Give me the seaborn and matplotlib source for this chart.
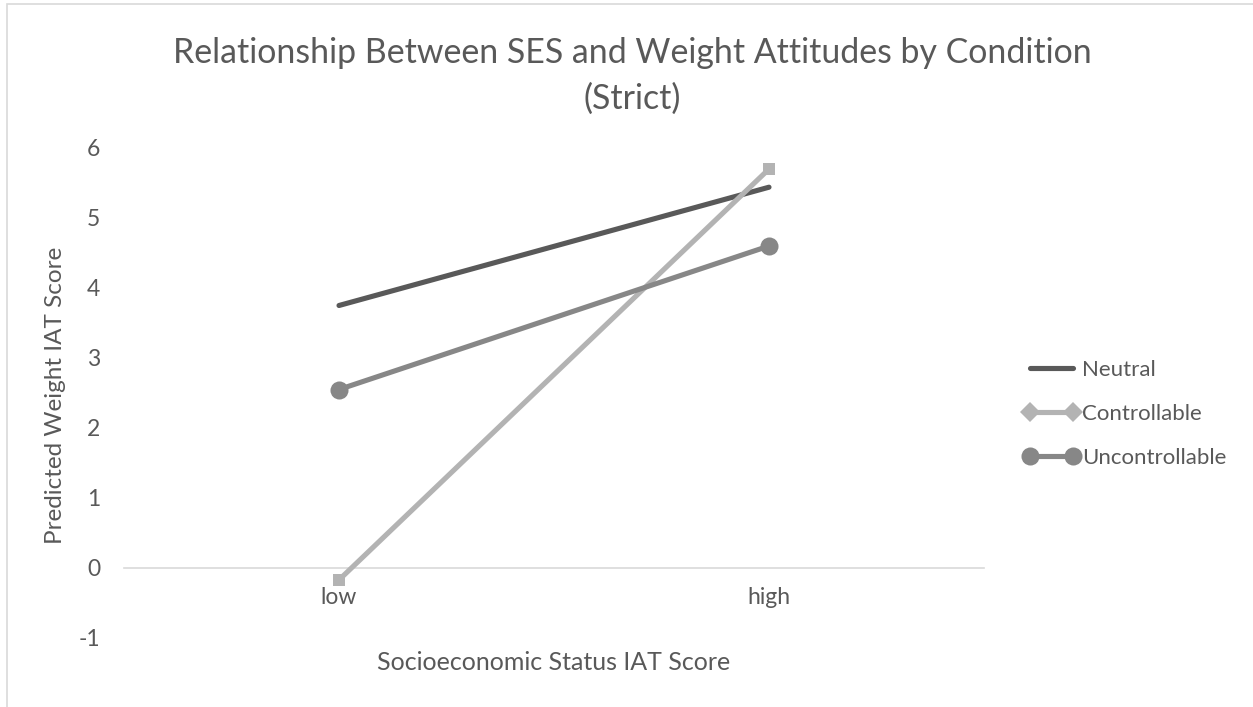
import matplotlib
matplotlib.use("Agg")
import matplotlib.pyplot as plt
import seaborn as sb
import pandas as pd
from matplotlib.lines import Line2D
from matplotlib.patches import Rectangle

categories = ['low', 'high']
series = ['Neutral', 'Controllable', 'Uncontrollable']
neutral = [3.75, 5.44]
controllable = [-0.17, 5.70]
uncontrollable = [2.55, 4.60]

colors = {'Neutral': '#595959', 'Controllable': '#b3b3b3', 'Uncontrollable': '#878787'}
markers = {'Neutral': None, 'Controllable': 's', 'Uncontrollable': 'o'}
msizes = {'Neutral': 0, 'Controllable': 8.5, 'Uncontrollable': 13}
legend_markers = {'Neutral': None, 'Controllable': 'D', 'Uncontrollable': 'o'}

df = pd.DataFrame({
    'ses': categories * 3,
    'pos': [0, 1] * 3,
    'score': neutral + controllable + uncontrollable,
    'condition': [s for s in series for _ in categories],
})

sb.set_theme(style="white")
plt.rcParams['font.family'] = ['Lato', 'DejaVu Sans']
plt.rcParams['axes.unicode_minus'] = False
txt = '#595959'

fig = plt.figure(figsize=(12.53, 7.07), dpi=100)
ax = fig.add_axes([124 / 1253, 1 - 638 / 707, 860 / 1253, 490 / 707])

for s in series:
    sub = df[df['condition'] == s]
    sb.lineplot(data=sub, x='pos', y='score', ax=ax, color=colors[s], linewidth=3.7,
                marker=markers[s], markersize=msizes[s], markeredgewidth=0,
                legend=False)

ax.set_xlim(-0.5, 1.5)
ax.set_ylim(-1, 6)
ax.set_xticks([0, 1])
ax.set_xticklabels(categories)
ax.set_yticks(range(-1, 7))
for sp in ['top', 'right', 'left']:
    ax.spines[sp].set_visible(False)
ax.spines['bottom'].set_position(('data', 0))
ax.spines['bottom'].set_color('#d9d9d9')
ax.spines['bottom'].set_linewidth(1.2)
ax.spines['bottom'].set_zorder(0)
ax.tick_params(axis='x', length=0, pad=14, labelsize=16.5, labelcolor=txt)
ax.tick_params(axis='y', length=0, pad=17, labelsize=16.5, labelcolor=txt)
ax.set_xlabel('Socioeconomic Status IAT Score', fontsize=18, color=txt)
ax.xaxis.set_label_coords(0.5, -0.027)
ax.set_ylabel('Predicted Weight IAT Score', fontsize=17.5, color=txt)
ax.yaxis.set_label_coords(-0.067, 0.496)
ax.patch.set_alpha(0)

fig.text(0.5045, 1 - 63 / 707, 'Relationship Between SES and Weight Attitudes by Condition',
         ha='center', va='baseline', fontsize=24.4, color=txt)
fig.text(0.5045, 1 - 109 / 707, '(Strict)',
         ha='center', va='baseline', fontsize=24.4, color=txt)

handles = []
for s in series:
    handles.append(Line2D([0], [0], color=colors[s], linewidth=3.7,
                          marker=legend_markers[s], markersize=10 if s == 'Controllable' else 13,
                          markeredgewidth=0))
leg = fig.legend(handles, series, loc='center left', bbox_to_anchor=(1023 / 1253, 1 - 414 / 707),
                 frameon=False, fontsize=16, handlelength=2.55, handletextpad=0.12,
                 labelspacing=1.08, labelcolor=txt, numpoints=2,
                 borderpad=0, borderaxespad=0)

fig.patches.append(Rectangle((7 / 1253, -0.1), 1.2, 1 - 4 / 707 + 0.1, transform=fig.transFigure,
                             fill=False, edgecolor='#d9d9d9', linewidth=1.2))

fig.savefig('out.png', dpi=100)
